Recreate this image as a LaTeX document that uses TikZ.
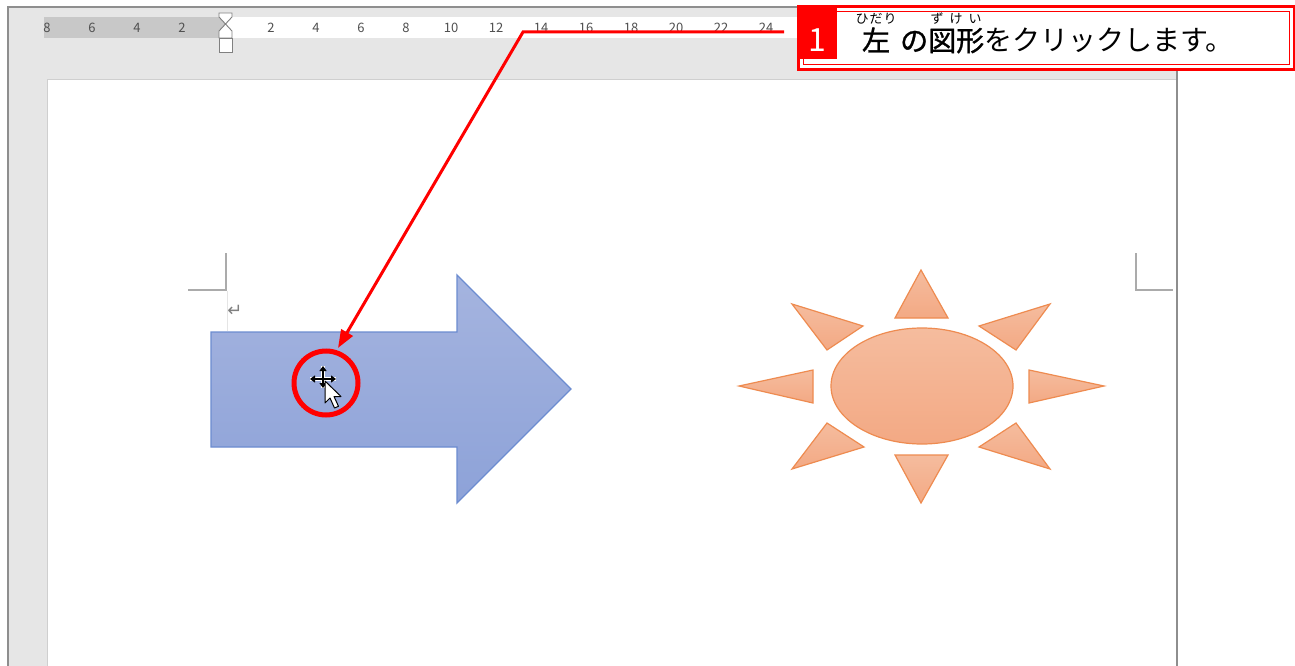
\documentclass[tikz,border=0pt]{standalone}
\usepackage{fontspec}
\setmainfont{Noto Sans CJK JP}
\newfontfamily\jpheavy[FakeBold=1.2]{Noto Sans CJK JP}
\newfontfamily\symfont{DejaVu Sans}
\usetikzlibrary{arrows.meta,positioning}

\definecolor{winGray}{HTML}{E6E6E6}
\definecolor{winLine}{HTML}{8E8E8E}
\definecolor{rulerShade}{HTML}{C8C8C8}
\definecolor{rulerText}{HTML}{505050}
\definecolor{pageLine}{HTML}{CFCFCF}
\definecolor{cropGray}{HTML}{ABABAB}
\definecolor{blueTop}{HTML}{A5B4DF}
\definecolor{blueBottom}{HTML}{8DA2D8}
\definecolor{blueLine}{HTML}{6C8CD0}
\definecolor{sunTop}{HTML}{F5BC9E}
\definecolor{sunBottom}{HTML}{F3A984}
\definecolor{sunLine}{HTML}{EE8B50}
\definecolor{markRed}{HTML}{FF0000}

\tikzset{
  rulernum/.style={font=\fontsize{13}{13}\selectfont, text=rulerText, inner sep=0pt, anchor=base},
  cropmark/.style={draw=cropGray, line width=1.5pt},
  indentmark/.style={draw=gray, fill=white, line width=0.9pt},
  sunray/.style={draw=sunLine, line width=1.2pt, top color=sunTop, bottom color=sunBottom},
  leader/.style={draw=markRed, line width=3pt, -{Triangle[length=18pt,width=13pt]}},
  ruby/.style={font=\fontsize{13}{13}\selectfont, inner sep=0pt, anchor=base},
  maintext/.style={font=\fontsize{28}{28}\selectfont, inner sep=0pt},
}

\begin{document}
\begin{tikzpicture}[x=1pt, y=-1pt]

  \useasboundingbox (0,0) rectangle (1295,666);
  \fill[white] (0,0) rectangle (1295,666);

  % Window and page
  \fill[winGray] (8,7) rectangle (1177,666);
  \draw[winLine, line width=1.5pt] (8,666) -- (8,7) -- (1177,7) -- (1177,666);
  \fill[white] (47,80) rectangle (1176,666);
  \draw[pageLine, line width=1pt] (47,666) -- (47,80) -- (1176,80);

  % Ruler
  \fill[rulerShade] (44,17) rectangle (225,38);
  \fill[white] (225,17) rectangle (800,38);
  \foreach \n [count=\i] in {8,6,4,2}
    \node[rulernum] (rl-\n) at (47+45*\i-45,33) {\n};
  \foreach \n [count=\i] in {2,4,...,24}
    \node[rulernum] (rr-\n) at (226+45*\i,33) {\n};
  \draw[indentmark] (219,13) -- (232,13) -- (232,17) -- (225.5,24) -- (219,17) -- cycle;
  \draw[indentmark] (225.5,24) -- (232,31) -- (232,38) -- (219,38) -- (219,31) -- cycle;
  \draw[indentmark] (219,38) rectangle (232,52);

  % Crop marks and paragraph mark
  \draw[cropmark] (226,253) -- (226,290) -- (188,290);
  \draw[cropmark] (1136,253) -- (1136,290) -- (1173,290);
  \draw[gray!20, line width=0.8pt] (227,291) -- (227,331);
  \node[font=\symfont\fontsize{18}{18}\selectfont, text=gray, inner sep=0pt] (para) at (235,311) {↵};

  % Block arrow
  \path[draw=blueLine, line width=1.3pt, top color=blueTop, bottom color=blueBottom]
    (211,332) -- (457,332) -- (457,275) -- (571,389) -- (457,503) -- (457,447) -- (211,447) -- cycle;

  % Sun
  \path[sunray] (922,386) ellipse[x radius=91, y radius=58];
  \path[sunray] (921,270) -- (948,318) -- (895,318) -- cycle;
  \path[sunray] (895,455) -- (948,455) -- (921,503) -- cycle;
  \path[sunray] (739,386) -- (813,370) -- (813,403) -- cycle;
  \path[sunray] (1104,386) -- (1029,370) -- (1029,403) -- cycle;
  \path[sunray] (792,304) -- (863,326) -- (827,350) -- cycle;
  \path[sunray] (1050,304) -- (979,326) -- (1016,350) -- cycle;
  \path[sunray] (827,423) -- (864,447) -- (792,469) -- cycle;
  \path[sunray] (1016,423) -- (979,447) -- (1050,469) -- cycle;

  % Mouse cursor
  \coordinate (move) at (323,379);
  \foreach \dx/\dy in {0/-13, 0/9, -13/0, 13/0}
    \draw[white, line width=3.4pt] (move) -- ++(\dx,\dy);
  \foreach \dx/\dy in {0/-13, 0/9, -13/0, 13/0}
    \draw[line width=1.4pt, -{Triangle[length=5pt,width=7pt]}] (move) -- ++(\dx,\dy);
  \draw[black, fill=white, line width=1pt, line join=round]
    (325,381) -- (325,403) -- (330,398) -- (334.5,408) -- (338.5,406.3) -- (334,396.5) -- (341,396.5) -- cycle;

  % Red ring
  \node[circle, draw=markRed, line width=5pt, minimum size=64pt, inner sep=0pt] (ring) at (326,383) {};

  % Callout
  \node[draw=markRed, line width=3pt, fill=white, minimum width=496pt, minimum height=63pt,
        inner sep=0pt] (callout) at (1046,38.5) {};
  \draw[markRed, line width=1pt] (803,12) rectangle (1289,65);
  \node[fill=markRed, minimum width=39pt, minimum height=52pt, inner sep=0pt] (step-num) at (817.5,33) {};
  \node[text=white, font=\fontsize{32}{32}\selectfont, inner sep=0pt, anchor=base] (num) at (817,52) {1};
  \node[maintext, anchor=base] (hidari) at (876,51) {\jpheavy 左};
  \node[maintext, anchor=base west] (msg) at (900,51) {{\jpheavy の図形}をクリックします。};
  \node[ruby] (hidari-ruby) at (876,24) {ひ\hspace{1pt}だ\hspace{1pt}り};
  \node[ruby] (zukei-ruby) at (956,24) {ず\hspace{6pt}け\hspace{6pt}い};

  % Leader to the shape
  \coordinate (lead) at (784,32);
  \coordinate (bend) at (523,32);
  \coordinate (tip) at (338,348);
  \draw[leader] (lead) -- (bend) -- (tip);

\end{tikzpicture}
\end{document}
